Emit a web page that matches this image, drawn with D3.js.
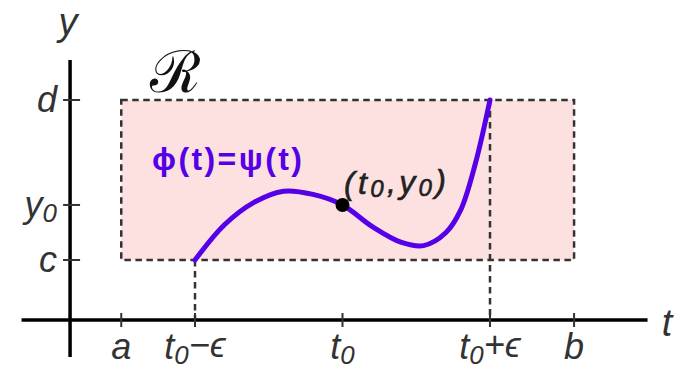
<!DOCTYPE html>
<html>
<head>
<meta charset="utf-8">
<script src="https://cdn.jsdelivr.net/npm/d3@7"></script>
<style>
  body { margin: 0; background: #fff; }
  svg { display: block; }
  text { font-family: "Liberation Sans", Arial, sans-serif; }
</style>
</head>
<body>
<div class="graph"></div>
<script>
// ---- data (t0 = 0, eps = 1, c = 0, d = 1) ----
const tTicks = [-1.5, -1, 0, 1, 1.57];
const tLabels = ["a", "t_0−ϵ", "t_0", "t_0+ϵ", "b"];
const yTicks = [0, 0.344, 1];
const yLabels = ["c", "y_0", "d"];

const curveT = [-1, -0.8, -0.6, -0.4, -0.2, 0, 0.2, 0.4, 0.55, 0.7, 0.8, 0.9, 1.0];
const curveY = [0, 0.22, 0.36, 0.43, 0.41, 0.344, 0.21, 0.11, 0.09, 0.17, 0.31, 0.6, 1.0];

const point = { t: 0, y: 0.344 };
const regionT = [-1.5, 1.57];
const regionY = [0, 1];
const axisT = [-2.176, 2.068];
const axisY = [-0.606, 1.25];
const originT = -1.847;
const originY = -0.375;

const w = 677;
const h = 369;

const svg = d3.select(".graph")
    .append("svg")
    .attr("width", w)
    .attr("height", h);

const xScale = d3.scaleLinear().domain([-1, 1]).range([195, 490]);
const yScale = d3.scaleLinear().domain([0, 1]).range([260, 100]);

const dash = "6.5,4.5";

// region R
svg.append("rect")
    .attr("x", xScale(regionT[0]))
    .attr("y", yScale(regionY[1]))
    .attr("width", xScale(regionT[1]) - xScale(regionT[0]))
    .attr("height", yScale(regionY[0]) - yScale(regionY[1]))
    .attr("fill", "#fde1e1")
    .attr("stroke", "#333")
    .attr("stroke-width", 2.5)
    .attr("stroke-dasharray", dash);

// dashed verticals at t0-eps and t0+eps
svg.selectAll(".guide")
    .data([[-1, 0], [1, 1]])
    .enter()
    .append("line")
    .attr("class", "guide")
    .attr("x1", d => xScale(d[0]))
    .attr("x2", d => xScale(d[0]))
    .attr("y1", d => yScale(d[1]))
    .attr("y2", yScale(originY))
    .style("stroke", "#333")
    .style("stroke-width", 2.5)
    .style("stroke-dasharray", dash);

// axes
svg.append("line")
    .attr("x1", xScale(axisT[0])).attr("x2", xScale(axisT[1]))
    .attr("y1", yScale(originY)).attr("y2", yScale(originY))
    .style("stroke", "#000").style("stroke-width", 3.5);

svg.append("line")
    .attr("x1", xScale(originT)).attr("x2", xScale(originT))
    .attr("y1", yScale(axisY[0])).attr("y2", yScale(axisY[1]))
    .style("stroke", "#000").style("stroke-width", 3.5);

svg.selectAll(".xtick")
    .data(tTicks)
    .enter()
    .append("line")
    .attr("x1", d => xScale(d)).attr("x2", d => xScale(d))
    .attr("y1", yScale(originY) - 7).attr("y2", yScale(originY) + 7)
    .style("stroke", "#333").style("stroke-width", 2);

svg.selectAll(".ytick")
    .data(yTicks)
    .enter()
    .append("line")
    .attr("y1", d => yScale(d)).attr("y2", d => yScale(d))
    .attr("x1", xScale(originT) - 7).attr("x2", xScale(originT) + 10)
    .style("stroke", "#333").style("stroke-width", 2);

// label with _0 subscript
function writeLabel(sel, str) {
    const parts = str.split("_0");
    sel.append("tspan").text(parts[0]);
    if (parts.length > 1) {
        sel.append("tspan").attr("font-size", "0.72em").attr("dy", "0.18em").text("0");
        sel.append("tspan").attr("dy", "-0.18em").text(parts[1]);
    }
}

svg.selectAll(".xlab")
    .data(tTicks)
    .enter()
    .append("text")
    .attr("x", d => xScale(d))
    .attr("y", 359)
    .attr("text-anchor", "middle")
    .attr("font-size", "36px")
    .attr("font-style", "italic")
    .attr("fill", "#333")
    .each(function (d, i) { writeLabel(d3.select(this), tLabels[i]); });

svg.selectAll(".ylab")
    .data(yTicks)
    .enter()
    .append("text")
    .attr("x", 57)
    .attr("y", d => yScale(d) + 12)
    .attr("text-anchor", "end")
    .attr("font-size", "36px")
    .attr("font-style", "italic")
    .attr("fill", "#333")
    .each(function (d, i) { writeLabel(d3.select(this), yLabels[i]); });

// axis names
svg.append("text").text("y")
    .attr("x", 68).attr("y", 35)
    .attr("text-anchor", "middle")
    .attr("font-size", "38px").attr("font-style", "italic").attr("fill", "#333");

svg.append("text").text("t")
    .attr("x", 667).attr("y", 336)
    .attr("text-anchor", "middle")
    .attr("font-size", "38px").attr("font-style", "italic").attr("fill", "#333");

// region name
svg.append("text").text("ℛ")
    .attr("x", 175).attr("y", 92)
    .attr("text-anchor", "middle")
    .attr("font-family", "DejaVu Serif")
    .attr("font-size", "58px").attr("fill", "#111");

// solution curve
const curveData = curveT.map((t, i) => ({ t: t, y: curveY[i] }));

svg.append("path")
    .datum(curveData)
    .attr("fill", "none")
    .attr("stroke", "#5500e6")
    .attr("stroke-width", 5)
    .attr("stroke-linecap", "round")
    .attr("d", d3.line()
        .x(d => xScale(d.t))
        .y(d => yScale(d.y))
        .curve(d3.curveCatmullRom));

svg.append("circle")
    .attr("cx", xScale(point.t))
    .attr("cy", yScale(point.y))
    .attr("r", 7)
    .attr("fill", "#000");

svg.append("text").text("ϕ(t)=ψ(t)")
    .attr("x", 152).attr("y", 170)
    .attr("font-size", "32px").attr("font-weight", "bold")
    .attr("textLength", 150)
    .attr("fill", "#5500e6");

const ptLab = svg.append("text")
    .attr("x", 344).attr("y", 194)
    .attr("font-size", "32px").attr("font-style", "italic")
    .attr("textLength", 102)
    .attr("fill", "#222")
    .attr("stroke", "#222").attr("stroke-width", 0.6);
ptLab.append("tspan").text("(t");
ptLab.append("tspan").attr("font-size", "0.75em").attr("dy", "0.12em").text("0");
ptLab.append("tspan").attr("dy", "-0.12em").text(",y");
ptLab.append("tspan").attr("font-size", "0.75em").attr("dy", "0.12em").text("0");
ptLab.append("tspan").attr("dy", "-0.12em").text(")");
</script>
</body>
</html>
